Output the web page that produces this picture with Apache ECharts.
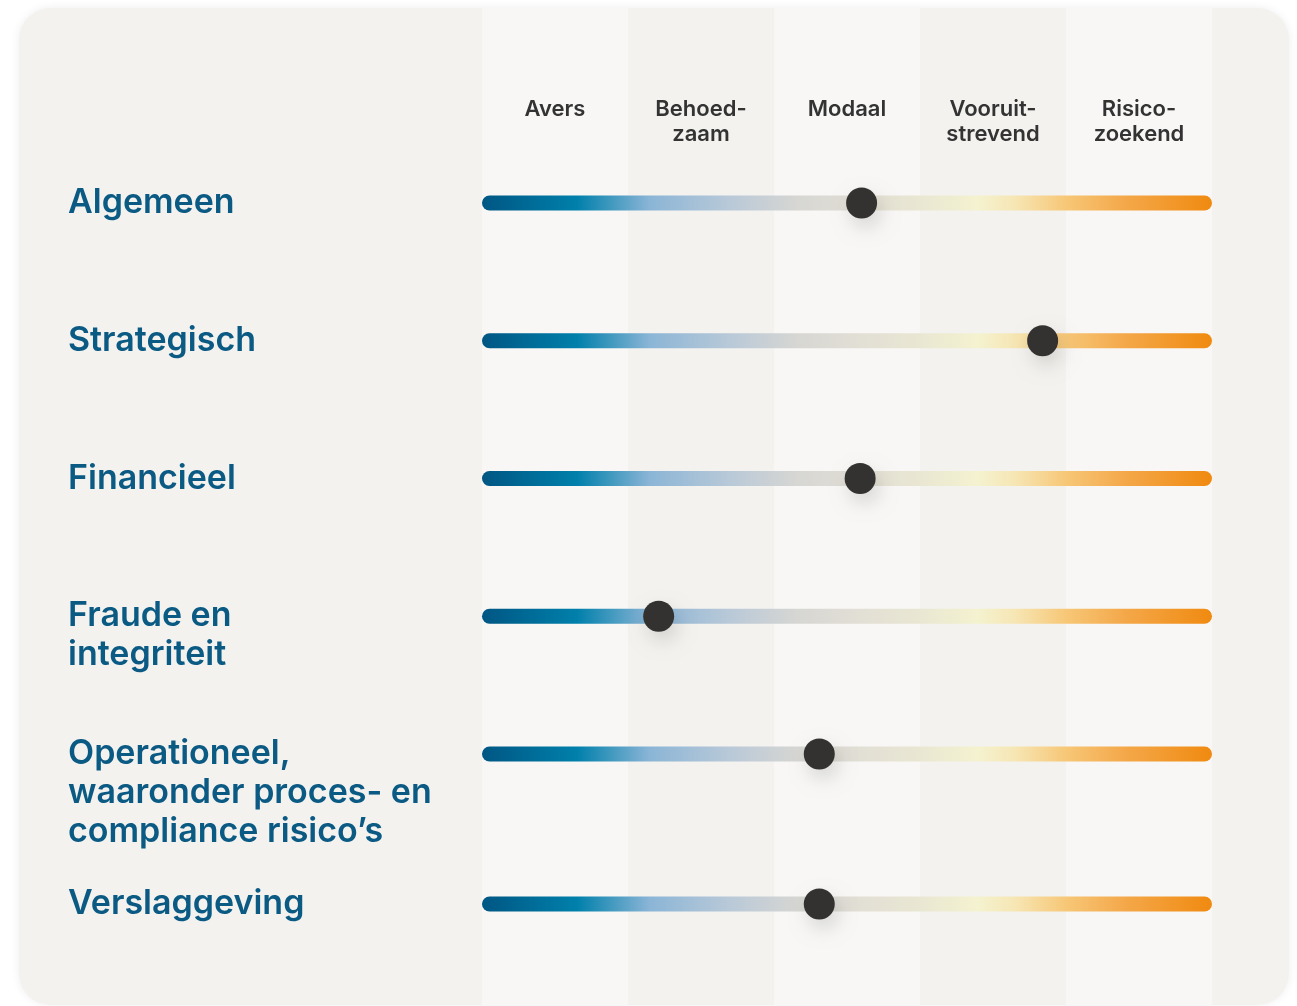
<!DOCTYPE html>
<html>
<head>
<meta charset="utf-8">
<script src="https://cdn.jsdelivr.net/npm/echarts@6/dist/echarts.min.js"></script>
<style>
  html, body { margin: 0; padding: 0; background: #ffffff; }
  #chart { width: 1297px; height: 1006px; }
</style>
</head>
<body>
<div id="chart"></div>
<script>
// ---- Data ----
const categories = [
  'Algemeen',
  'Strategisch',
  'Financieel',
  'Fraude en\nintegriteit',
  'Operationeel,\nwaaronder proces- en\ncompliance risico’s',
  'Verslaggeving'
];
const levels = ['Avers', 'Behoed-\nzaam', 'Modaal', 'Vooruit-\nstrevend', 'Risico-\nzoekend'];
const scores = [2.6, 3.84, 2.59, 1.21, 2.31, 2.31];
const scaleMin = 0;
const scaleMax = 5;

// ---- Styles ----
const FONT = 'Inter, "Open Sans", sans-serif';
const trackGradient = new echarts.graphic.LinearGradient(0, 0, 1, 0, [
  { offset: 0.00, color: '#005683' },
  { offset: 0.13, color: '#0080ab' },
  { offset: 0.23, color: '#8bb5d6' },
  { offset: 0.34, color: '#b9c9d8' },
  { offset: 0.43, color: '#d6d6d3' },
  { offset: 0.52, color: '#e2dfd5' },
  { offset: 0.60, color: '#e9e7d2' },
  { offset: 0.68, color: '#f4f2cf' },
  { offset: 0.73, color: '#f6e6b4' },
  { offset: 0.80, color: '#f7c777' },
  { offset: 0.88, color: '#f4a84a' },
  { offset: 1.00, color: '#f08a10' }
]);

const firstGroup = categories.slice(0, 5);
const lastGroup = categories.slice(5);

function labelFmt(v) {
  const k = v.split('\n').length;
  return '\n'.repeat(k - 1) + v;
}

const rowLabel = {
  interval: 0,
  align: 'left',
  margin: 414,
  color: '#0b5a83',
  fontFamily: FONT,
  fontSize: 34,
  fontWeight: 600,
  lineHeight: 39,
  formatter: labelFmt
};

function valueX(gi) {
  return { type: 'value', gridIndex: gi, min: scaleMin, max: scaleMax, show: false };
}
function catY(gi, data) {
  return {
    type: 'category', gridIndex: gi, data: data, inverse: true,
    axisLine: { show: false }, axisTick: { show: false }, splitLine: { show: false },
    axisLabel: rowLabel
  };
}
function track(gi, data) {
  return {
    type: 'bar', xAxisIndex: gi, yAxisIndex: gi,
    data: data.map(() => scaleMax),
    barWidth: 15, silent: true,
    itemStyle: { color: trackGradient, borderRadius: 7.5 },
    z: 2
  };
}
function dots(gi, data, vals) {
  return {
    type: 'scatter', xAxisIndex: gi, yAxisIndex: gi,
    data: vals.map((v, i) => [v, data[i]]),
    symbol: 'circle', symbolSize: 31,
    itemStyle: {
      color: '#343230', opacity: 1,
      shadowBlur: 18, shadowColor: 'rgba(0,0,0,0.13)',
      shadowOffsetX: 4, shadowOffsetY: 9
    },
    z: 5
  };
}

const chart = echarts.init(document.getElementById('chart'), null, { renderer: 'canvas' });
chart.setOption({
  animation: false,
  backgroundColor: '#ffffff',
  graphic: {
    elements: [{
      type: 'rect', z: -100, silent: true,
      shape: { x: 19, y: 8, width: 1270, height: 997, r: 32 },
      style: { fill: '#f3f2ef', shadowBlur: 10, shadowColor: 'rgba(0,0,0,0.07)' }
    }]
  },
  grid: [
    { left: 482, right: 85, top: 8, bottom: 1, containLabel: false, outerBoundsMode: 'none' },
    { left: 482, right: 85, top: 134.1, bottom: 183.1, containLabel: false, outerBoundsMode: 'none' },
    { left: 482, right: 85, top: 835.1, bottom: 33.1, containLabel: false, outerBoundsMode: 'none' }
  ],
  xAxis: [
    {
      type: 'category', gridIndex: 0, data: levels, position: 'top',
      axisLine: { show: false }, axisTick: { show: false }, splitLine: { show: false },
      splitArea: { show: true, areaStyle: { color: ['#f8f7f5', '#f3f2ef'] } },
      axisLabel: {
        interval: 0, margin: -89, verticalAlign: 'top',
        color: '#333333', fontFamily: FONT, fontSize: 22, fontWeight: 600, lineHeight: 25
      }
    },
    valueX(1),
    valueX(2)
  ],
  yAxis: [
    { type: 'value', gridIndex: 0, show: false },
    catY(1, firstGroup),
    catY(2, lastGroup)
  ],
  series: [
    track(1, firstGroup),
    track(2, lastGroup),
    dots(1, firstGroup, scores.slice(0, 5)),
    dots(2, lastGroup, scores.slice(5))
  ]
});
</script>
</body>
</html>
